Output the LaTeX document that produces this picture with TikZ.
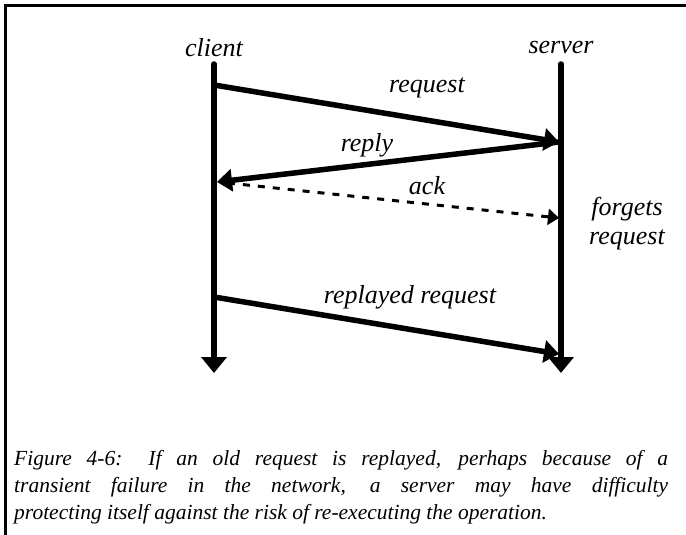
\documentclass[tikz,border=0pt]{standalone}
\usepackage{fontspec}
\setmainfont{Liberation Serif}
\usetikzlibrary{positioning, arrows.meta}

\begin{document}
\begin{tikzpicture}[x=1pt, y=-1pt,
  tag/.style={font=\fontsize{26}{29}\selectfont\itshape, inner sep=0pt, align=center},
  lifeline/.style={line width=5.5pt, line cap=round, -{Triangle[length=16pt,width=25pt]}},
  msg/.style={line width=5.5pt, -{Triangle[length=15pt,width=22pt]}},
  ackmsg/.style={line width=3pt, dash pattern=on 7pt off 8pt, -{Triangle[length=11pt,width=16pt]}},
  caption/.style={font=\fontsize{21.5}{27}\selectfont\itshape, align=left, inner sep=0pt, anchor=north west}
]
  \useasboundingbox (0,0) rectangle (686,535);
  \draw[line width=3.2pt] (686,5.5) -- (5.5,5.5) -- (5.5,535);

  % lifelines
  \coordinate (ctop) at (214,64);
  \coordinate (cend) at (214,373);
  \coordinate (stop) at (561,64);
  \coordinate (send) at (561,373);
  \node[tag] (client) at (214,48) {client};
  \node[tag] (server) at (561,48) {server};
  \draw[lifeline] (ctop) -- (cend);
  \draw[lifeline] (stop) -- (send);

  % messages
  \coordinate (req0) at (214,85);
  \coordinate (req1) at (559,142);
  \coordinate (rep1) at (217,182);
  \coordinate (ack0) at (228,183);
  \coordinate (ack1) at (559,218);
  \coordinate (rr0) at (214,297);
  \coordinate (rr1) at (559,354);
  \draw[msg] (req0) -- (req1);
  \draw[msg] (req1) -- (rep1);
  \draw[ackmsg] (ack0) -- (ack1);
  \draw[msg] (rr0) -- (rr1);

  \node[tag] (lreq) at (427,88) {request};
  \node[tag] (lrep) at (367,145) {reply};
  \node[tag] (lack) at (427,186) {ack};
  \node[tag] (lrr) at (410,297) {replayed request};
  \node[tag] (forget) at (627,224) {forgets\\request};

  \node[caption] (cap) at (14,450) {%
    \makebox[654pt][s]{Figure 4-6: If an old request is replayed, perhaps because of a}\\
    \makebox[654pt][s]{transient failure in the network, a server may have difficulty}\\
    protecting itself against the risk of re-executing the operation.};
\end{tikzpicture}
\end{document}
